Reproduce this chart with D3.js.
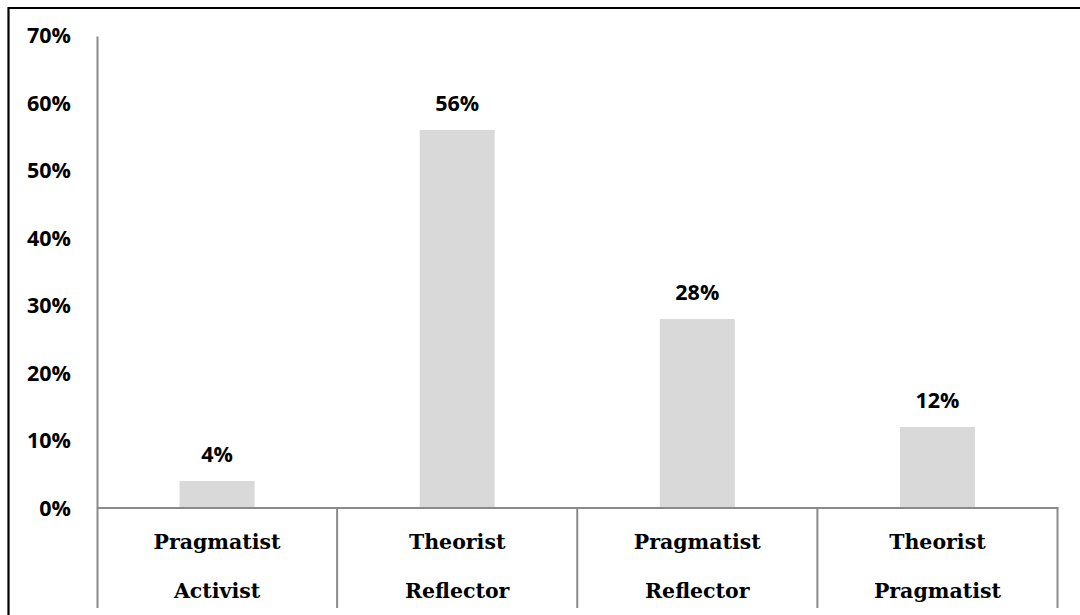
<!DOCTYPE html>
<html>
<head>
<meta charset="utf-8">
<script src="https://cdn.jsdelivr.net/npm/d3@7"></script>
<style>
  html, body { margin: 0; padding: 0; background: #fff; }
  svg { display: block; }
</style>
</head>
<body>
<svg id="chart" width="1080" height="615"></svg>
<script>
// Learning-style combinations and their share of respondents
const categories = [
  ["Pragmatist", "Activist"],
  ["Theorist", "Reflector"],
  ["Pragmatist", "Reflector"],
  ["Theorist", "Pragmatist"]
];
const values = [4, 56, 28, 12];
const tickValues = [0, 10, 20, 30, 40, 50, 60, 70];

(function draw() {
  const svg = d3.select("#chart");
  const W = 1080, H = 615;
  const plotLeft = 97, plotRight = 1057.5, plotBase = 508, plotTop = 35.5;

  // outer frame (top and left edges)
  svg.append("path")
    .attr("d", `M8.5,${H} V8 H${W}`)
    .attr("fill", "none")
    .attr("stroke", "#000")
    .attr("stroke-width", 2.2);

  const x = d3.scaleBand()
    .domain(d3.range(categories.length))
    .range([plotLeft, plotRight])
    .paddingInner(0)
    .paddingOuter(0);

  const y = d3.scaleLinear().domain([0, 70]).range([plotBase, plotTop]);

  const g = svg.append("g");

  // bars
  const barW = 75;
  g.selectAll("rect.bar")
    .data(values)
    .join("rect")
    .attr("class", "bar")
    .attr("x", (d, i) => x(i) + x.bandwidth() / 2 - barW / 2)
    .attr("width", barW)
    .attr("y", d => y(d))
    .attr("height", d => y(0) - y(d))
    .attr("fill", "#d9d9d9");

  // y axis line
  const axisColor = "#8a8a8a";
  g.append("line")
    .attr("x1", plotLeft + 0.5).attr("x2", plotLeft + 0.5)
    .attr("y1", y(70) + 1).attr("y2", 608)
    .attr("stroke", axisColor).attr("stroke-width", 2);

  // baseline
  g.append("line")
    .attr("x1", plotLeft).attr("x2", plotRight + 1)
    .attr("y1", plotBase).attr("y2", plotBase)
    .attr("stroke", axisColor).attr("stroke-width", 2);

  // category separators below the baseline
  g.selectAll("line.sep")
    .data(d3.range(1, categories.length + 1))
    .join("line")
    .attr("class", "sep")
    .attr("x1", i => x(i - 1) + x.bandwidth())
    .attr("x2", i => x(i - 1) + x.bandwidth())
    .attr("y1", plotBase).attr("y2", 608)
    .attr("stroke", axisColor).attr("stroke-width", 2);

  // y tick labels
  const sans = "'Open Sans', Lato, sans-serif";
  g.selectAll("text.tick")
    .data(tickValues)
    .join("text")
    .attr("class", "tick")
    .attr("x", 71)
    .attr("y", d => y(d))
    .attr("dy", "0.36em")
    .attr("text-anchor", "end")
    .attr("font-family", sans)
    .attr("font-weight", 700)
    .attr("font-size", 21.5)
    .attr("fill", "#000")
    .text(d => d + "%");

  // value labels above bars
  g.selectAll("text.val")
    .data(values)
    .join("text")
    .attr("class", "val")
    .attr("x", (d, i) => x(i) + x.bandwidth() / 2)
    .attr("y", d => y(d) - 27)
    .attr("dy", "0.36em")
    .attr("text-anchor", "middle")
    .attr("font-family", sans)
    .attr("font-weight", 700)
    .attr("font-size", 21.5)
    .attr("fill", "#000")
    .text(d => d + "%");

  // two-line category labels
  const cat = g.selectAll("text.cat")
    .data(categories)
    .join("text")
    .attr("class", "cat")
    .attr("text-anchor", "middle")
    .attr("font-family", "'DejaVu Serif', serif")
    .attr("font-weight", 700)
    .attr("font-size", 20.5)
    .attr("fill", "#000");
  cat.each(function (d, i) {
    const t = d3.select(this);
    const cx = x(i) + x.bandwidth() / 2;
    t.append("tspan").attr("x", cx).attr("y", 542).attr("dy", "0.36em").text(d[0]);
    t.append("tspan").attr("x", cx).attr("y", 591).attr("dy", "0.36em").text(d[1]);
  });
})();
</script>
</body>
</html>
